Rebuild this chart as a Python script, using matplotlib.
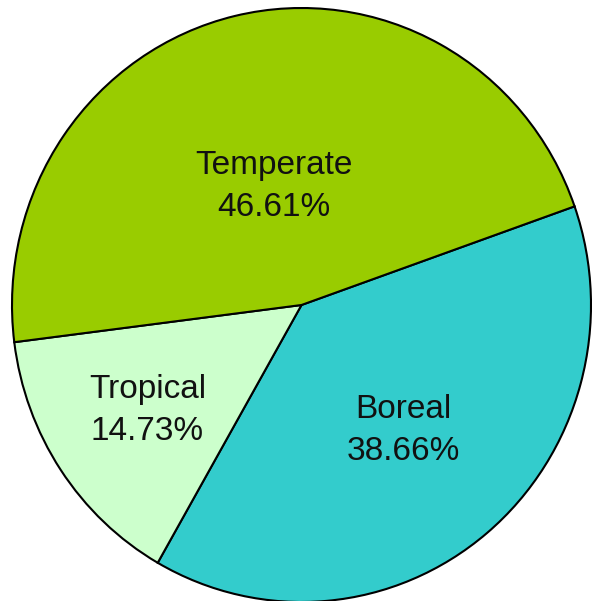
import numpy as np
import matplotlib
matplotlib.use("Agg")
import matplotlib.pyplot as plt

categories = ["Boreal", "Tropical", "Temperate"]
shares = [38.66, 14.73, 46.61]
colors = ["#33CCCC", "#CCFFCC", "#99CC00"]
label_dist = [0.55, 0.64, 0.41]

W, H = 592, 601
rx, ry = 289.5, 297.0
ky = ry / rx
fig = plt.figure(figsize=(W / 100, H / 100), dpi=100)
ax = fig.add_axes([0, 0, 1, 1])

cx, cy = 301.5, (H - 305) / ky
wedges, _ = ax.pie(shares, colors=colors, startangle=19.4, counterclock=False,
                   center=(cx, cy), radius=rx, frame=True,
                   wedgeprops=dict(edgecolor="black", linewidth=1.5))
ax.set_aspect("auto")
ax.set_xlim(0, W)
ax.set_ylim(0, H / ky)
ax.axis("off")

for w, name, val, d in zip(wedges, categories, shares, label_dist):
    mid = np.deg2rad((w.theta1 + w.theta2) / 2)
    x = cx + d * rx * np.cos(mid)
    y = cy + d * rx * np.sin(mid)
    ax.text(x, y, f"{name}\n{val:.2f}%", ha="center", va="center",
            fontsize=24, family="Liberation Sans", linespacing=1.45, color="#111111")

fig.savefig("out.png", dpi=100)
